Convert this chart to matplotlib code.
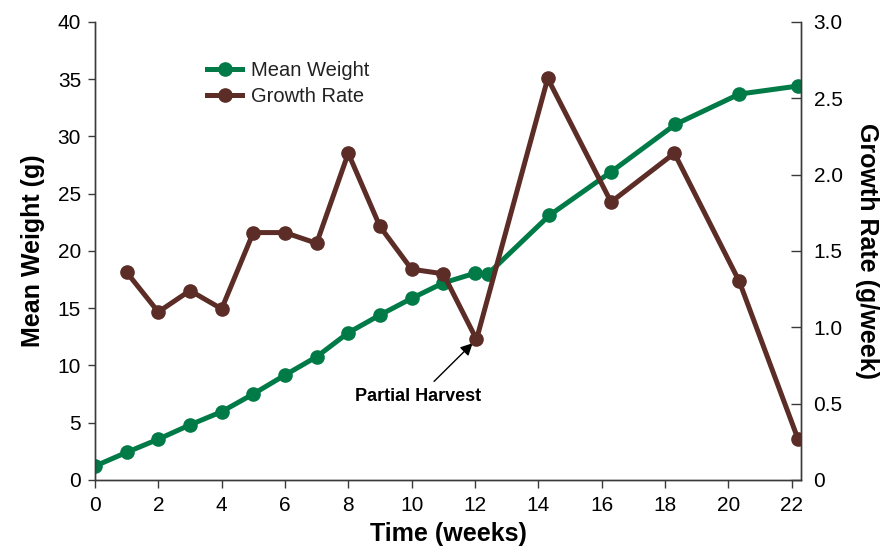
import matplotlib.pyplot as plt
from matplotlib.ticker import FixedLocator, FixedFormatter

plt.rcParams["font.family"] = ["Liberation Sans", "DejaVu Sans"]

# Mean weight (g) over time (weeks)
weight_weeks = [0, 1, 2, 3, 4, 5, 6, 7, 8, 9, 10, 11, 12, 12.4, 14.35, 16.3, 18.33, 20.35, 22.2]
mean_weight = [1.2, 2.4, 3.55, 4.8, 5.95, 7.5, 9.15, 10.75, 12.85, 14.4, 15.85, 17.2, 18.05, 17.95,
               23.1, 26.9, 31.05, 33.7, 34.4]

# Growth rate (g/week)
growth_weeks = [1, 2, 3, 4, 5, 6, 7, 8, 9, 10, 11, 12.05, 14.3, 16.3, 18.3, 20.35, 22.2]
growth_rate = [1.36, 1.10, 1.24, 1.12, 1.62, 1.62, 1.55, 2.14, 1.66, 1.38, 1.35, 0.92,
               2.63, 1.82, 2.14, 1.30, 0.27]

x_ticks = [0, 2, 4, 6, 8, 10, 12, 14, 16, 18, 20, 22]
left_ticks = [0, 5, 10, 15, 20, 25, 30, 35, 40]
right_ticks = [0, 0.5, 1.0, 1.5, 2.0, 2.5, 3.0]
right_labels = ["0", "0.5", "1.0", "1.5", "2.0", "2.5", "3.0"]

GREEN = "#007a47"
BROWN = "#5c2c26"
SPINE = "#3a3a3a"

fig = plt.figure(figsize=(8.96, 5.49), dpi=100)
ax1 = fig.add_axes([0.106, 0.126, 0.788, 0.834])
ax2 = ax1.twinx()

ax1.plot(weight_weeks, mean_weight, color=GREEN, lw=3.6, marker="o", ms=9.5,
         label="Mean Weight", solid_joinstyle="round")
ax2.plot(growth_weeks, growth_rate, color=BROWN, lw=3.6, marker="o", ms=9.5,
         label="Growth Rate", solid_joinstyle="round")

ax1.set_xlim(0, 22.3)
ax1.set_ylim(0, 40)
ax2.set_ylim(0, 3.0)

ax1.set_xticks(x_ticks)
ax1.set_yticks(left_ticks)
ax2.yaxis.set_major_locator(FixedLocator(right_ticks))
ax2.yaxis.set_major_formatter(FixedFormatter(right_labels))

for ax in (ax1, ax2):
    ax.spines["top"].set_visible(False)
    for s in ("left", "right", "bottom"):
        ax.spines[s].set_color(SPINE)
        ax.spines[s].set_linewidth(1.0)

ax1.tick_params(axis="x", direction="out", length=6, width=1, color=SPINE,
                labelsize=15, pad=6)
ax1.tick_params(axis="y", direction="out", length=5, width=1, color=SPINE,
                labelsize=15, pad=5)
ax2.tick_params(axis="y", direction="in", length=7, width=1, color=SPINE,
                labelsize=15, pad=9)

ax1.set_xlabel("Time (weeks)", fontsize=18, fontweight="bold", labelpad=5)
ax1.set_ylabel("Mean Weight (g)", fontsize=18, fontweight="bold", labelpad=9)
ax2.set_ylabel("Growth Rate (g/week)", fontsize=18, fontweight="bold",
               rotation=270, labelpad=26)

# annotation for the harvest point
ax1.annotate("", xy=(11.93, 11.94), xytext=(10.71, 8.6),
             arrowprops=dict(arrowstyle="-|>", color="black", lw=1,
                             mutation_scale=18, shrinkA=0, shrinkB=0))
ax1.text(10.19, 7.3, "Partial Harvest", fontsize=13, fontweight="bold",
         ha="center", va="center")

h1, l1 = ax1.get_legend_handles_labels()
h2, l2 = ax2.get_legend_handles_labels()
ax2.legend(h1 + h2, l1 + l2, loc="upper left", bbox_to_anchor=(207 / 896, 1 - 61 / 549),
           bbox_transform=fig.transFigure, frameon=False, fontsize=14.5,
           handlelength=1.75, handletextpad=0.45, labelspacing=0.35,
           borderpad=0, borderaxespad=0, labelcolor="#222222")

fig.savefig("out.png", dpi=100)
